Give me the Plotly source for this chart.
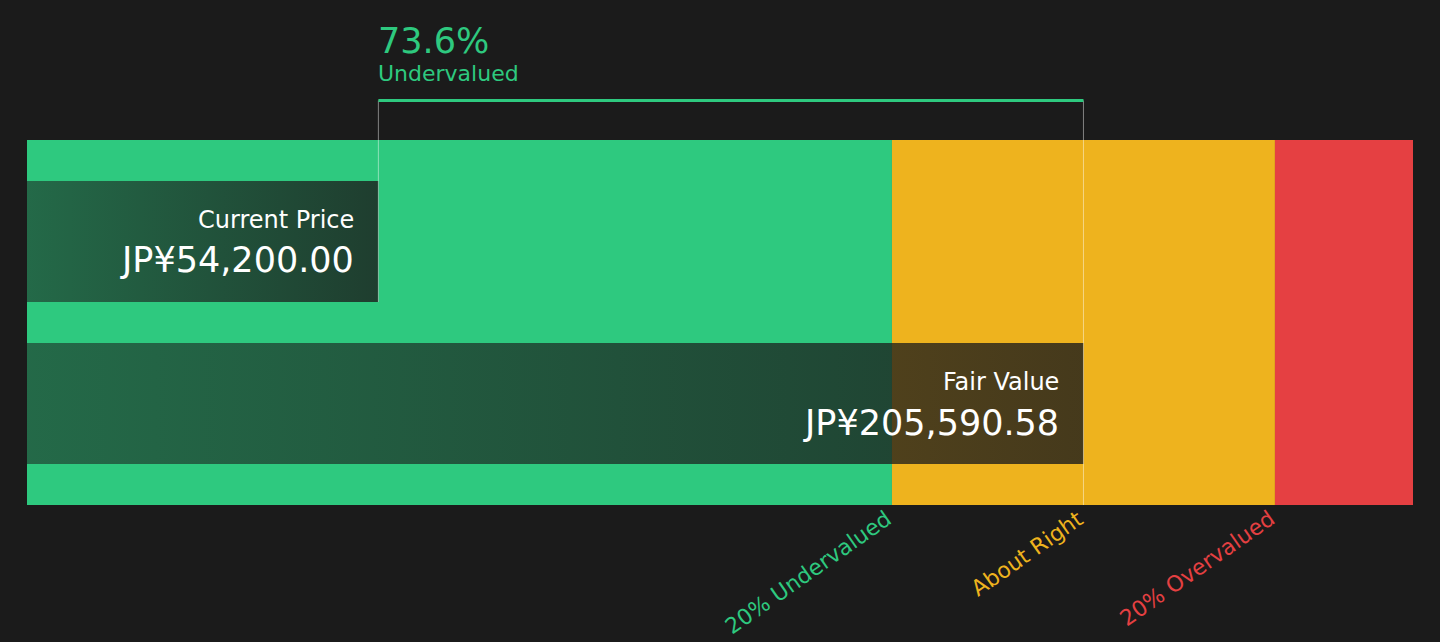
import plotly.graph_objects as go

# values (JPY)
categories = ["Current Price", "Fair Value"]
values = [54200.00, 205590.58]

zone_labels = ["20% Undervalued", "About Right", "20% Overvalued"]
zone_bounds = [164472.46, 205590.58, 246708.70]   # label positions
zone_starts = [-21250, 164472.46, 246708.70]
zone_ends = [164472.46, 246708.70, 276350]

bg = "#1b1b1b"
green = "#2ec97f"
yellow = "#eeb31e"
red = "#e54042"
zone_colors = [green, yellow, red]
label_colors = [green, yellow, red]
font_fam = "DejaVu Sans"

x_min = zone_starts[0]
x_max = zone_ends[-1]

fig = go.Figure()

# coloured valuation zones
for s, e, c in zip(zone_starts, zone_ends, zone_colors):
    fig.add_trace(go.Bar(x=[e - s], y=[0.5], base=[s], width=[1],
                         orientation="h", marker=dict(color=c, line=dict(width=0)),
                         hoverinfo="skip", showlegend=False))

# price bars (current price on top, fair value below), gradient filled
bands = [(0.556, 0.888), (0.112, 0.444)]
for val, (y0, y1) in zip(values, bands):
    fig.add_trace(go.Scatter(
        x=[x_min, val, val, x_min, x_min],
        y=[y0, y0, y1, y1, y0],
        mode="none", fill="toself",
        fillgradient=dict(type="horizontal",
                          colorscale=[[0, "rgba(27,27,27,0.55)"],
                                      [1, "rgba(27,27,27,0.80)"]]),
        hoverinfo="skip", showlegend=False))

line_y = (505 - 100.5) / 365
shapes = [
    dict(type="line", xref="x", yref="paper", x0=values[0], x1=values[0],
         y0=line_y, y1=bands[0][0], line=dict(color="rgba(255,255,255,0.45)", width=1)),
    dict(type="line", xref="x", yref="paper", x0=values[1], x1=values[1],
         y0=line_y, y1=0, line=dict(color="rgba(255,255,255,0.45)", width=1)),
    dict(type="line", xref="x", yref="paper", x0=values[0], x1=values[1],
         y0=line_y, y1=line_y, line=dict(color=green, width=3)),
]

pct = (1 - values[0] / values[1]) * 100
annotations = [
    dict(x=values[0], y=1.272, text=f"{pct:.1f}%", xanchor="left", yanchor="middle",
         xshift=-2, font=dict(size=35, color=green)),
    dict(x=values[0], y=1.181, text="Undervalued", xanchor="left", yanchor="middle",
         xshift=-2, font=dict(size=22, color=green)),
]
name_y = [0.782, 0.337]
val_y = [0.670, 0.2247]
for cat, val, ny, vy in zip(categories, values, name_y, val_y):
    annotations.append(dict(x=val, y=ny, text=cat, xanchor="right", yanchor="middle",
                            xshift=-22, font=dict(size=24, color="white")))
    annotations.append(dict(x=val, y=vy, text=f"JP¥{val:,.2f}", xanchor="right",
                            yanchor="middle", xshift=-22, font=dict(size=35, color="white")))
for lab, xb, c in zip(zone_labels, zone_bounds, label_colors):
    annotations.append(dict(x=xb, y=0.005, text=lab, xanchor="right", yanchor="top",
                            xshift=7, textangle=-35, font=dict(size=22, color=c)))
for a in annotations:
    a.update(xref="x", yref="paper", showarrow=False)

fig.update_layout(
    width=1440, height=642,
    margin=dict(l=27, r=27, t=140, b=137),
    paper_bgcolor=bg, plot_bgcolor=bg,
    barmode="overlay",
    font=dict(family=font_fam, color="white"),
    xaxis=dict(range=[x_min, x_max], visible=False, fixedrange=True),
    yaxis=dict(range=[0, 1], visible=False, fixedrange=True),
    shapes=shapes, annotations=annotations,
    showlegend=False,
)

# drop the default page margin so the figure sits at the window corner
fig.write_html("out.html", config={"displayModeBar": False},
               post_script="document.body.style.margin='0';"
                           "document.body.style.overflow='hidden';"
                           "document.body.style.background='#1b1b1b';")
